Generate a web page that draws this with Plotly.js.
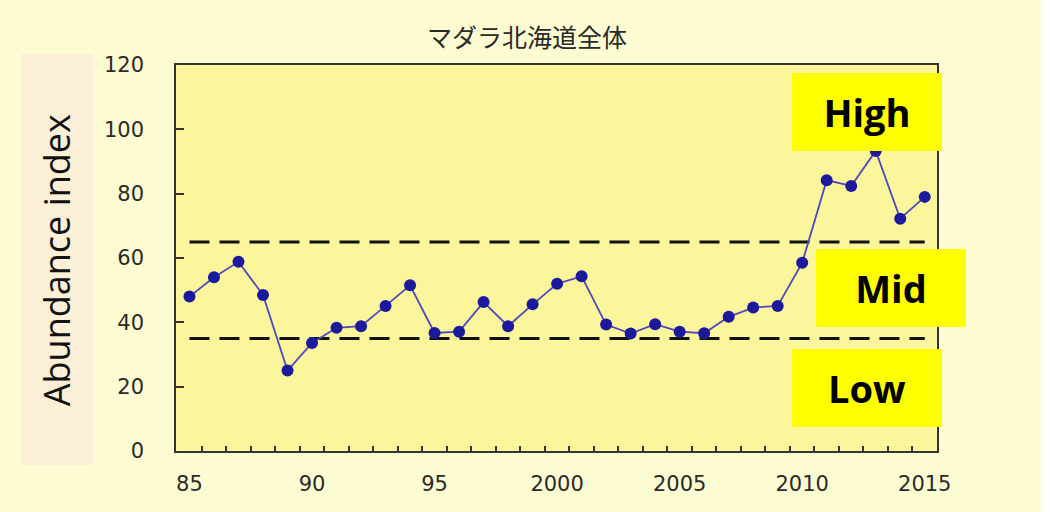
<!DOCTYPE html>
<html>
<head>
<meta charset="utf-8">
<script src="https://cdn.plot.ly/plotly-3.0.1.min.js"></script>
<style>
  body { margin: 0; background: #fdfbd2; }
  #chart { width: 1050px; height: 512px; }
</style>
</head>
<body>
<div id="chart"></div>
<script>
// abundance index, Pacific cod, all Hokkaido
var years = [1985, 1986, 1987, 1988, 1989, 1990, 1991, 1992, 1993, 1994,
             1995, 1996, 1997, 1998, 1999, 2000, 2001, 2002, 2003, 2004,
             2005, 2006, 2007, 2008, 2009, 2010, 2011, 2012, 2013, 2014, 2015];
var index = [48, 54, 58.8, 48.5, 25, 33.6, 38.3, 38.8, 45.1, 51.5,
             36.7, 37.1, 46.3, 38.8, 45.6, 52, 54.3, 39.3, 36.5, 39.4,
             37.1, 36.6, 41.7, 44.6, 45.1, 58.5, 84.2, 82.4, 93.3, 72.2, 79];
var thresholds = [35, 65];   // low/mid and mid/high boundaries
var levelNames = ['High', 'Mid', 'Low'];
var xTickVals = [1985, 1990, 1995, 2000, 2005, 2010, 2015];
var xTickText = ['85', '90', '95', '2000', '2005', '2010', '2015'];

var traces = [];
thresholds.forEach(function (t) {
    traces.push({
        x: [years[0], years[years.length - 1]],
        y: [t, t],
        mode: 'lines',
        type: 'scatter',
        hoverinfo: 'skip',
        line: {color: '#111111', width: 3, dash: '20px,10px'}
    });
});
traces.push({
    x: years,
    y: index,
    mode: 'lines+markers',
    type: 'scatter',
    name: 'index',
    line: {color: '#5048bc', width: 1.8},
    marker: {color: '#1c1a9c', size: 12}
});

// year ticks sit between the points
var halfYears = [];
for (var i = 0; i < years.length - 1; i++) halfYears.push(years[i] + 0.5);

var tickFont = {family: 'DejaVu Sans', size: 21, color: '#2a2a2a'};
var boxFont = {family: 'Open Sans', size: 38, color: '#000000', weight: 'bold'};

var boxes = [
    {x: 0.8095, y: 0.979},
    {x: 0.841, y: 0.523},
    {x: 0.8095, y: 0.264}
];
var annotations = levelNames.map(function (n, k) {
    return {
        text: '<b>' + n + '</b>',
        xref: 'paper', yref: 'paper',
        x: boxes[k].x, y: boxes[k].y,
        xanchor: 'left', yanchor: 'top',
        showarrow: false,
        width: 150, height: 78,
        align: 'center', valign: 'middle',
        bgcolor: '#ffff00', borderpad: 0, borderwidth: 0,
        font: boxFont
    };
});
annotations.push({
    text: 'Abundance index',
    xref: 'paper', yref: 'paper',
    x: -0.156, y: 0.495,
    xanchor: 'center', yanchor: 'middle',
    textangle: -90,
    showarrow: false,
    font: {family: 'Open Sans', size: 36, color: '#111111'}
});

var layout = {
    width: 1050,
    height: 512,
    margin: {l: 176, r: 113, t: 65, b: 61},
    paper_bgcolor: '#fdfbd2',
    plot_bgcolor: '#fbf59c',
    showlegend: false,
    title: {
        text: 'マダラ北海道全体',
        x: 0.502, xanchor: 'center',
        y: 0.926, yanchor: 'middle',
        font: {family: 'Noto Sans CJK JP', size: 25, color: '#2a2a2a'}
    },
    xaxis: {
        range: [1984.45, 2015.5],
        tickmode: 'array',
        tickvals: xTickVals,
        ticktext: xTickText,
        ticks: '',
        ticklabelstandoff: 13,
        tickfont: tickFont,
        showgrid: false,
        zeroline: false,
        showline: true,
        mirror: true,
        linecolor: '#333333',
        linewidth: 1.5,
        minor: {tickmode: 'array', tickvals: halfYears, ticks: 'inside',
                ticklen: 5, tickcolor: '#333333', tickwidth: 1.5, showgrid: false}
    },
    yaxis: {
        range: [0, 120],
        tickmode: 'array',
        tickvals: [0, 20, 40, 60, 80, 100, 120],
        ticks: 'inside',
        ticklen: 8,
        tickwidth: 1.5,
        tickcolor: '#333333',
        ticklabelstandoff: 26,
        tickfont: tickFont,
        showgrid: false,
        zeroline: false,
        showline: true,
        mirror: true,
        linecolor: '#333333',
        linewidth: 1.5
    },
    shapes: [
        {type: 'rect', xref: 'paper', yref: 'paper', layer: 'below',
         x0: -0.2037, x1: -0.1091, y0: -0.0363, y1: 1.0285,
         fillcolor: '#fcefd8', line: {width: 0}},
        {type: 'rect', xref: 'paper', yref: 'paper', layer: 'above',
         x0: 1.138, x1: 1.3, y0: -0.3, y1: 1.3,
         fillcolor: '#ffffff', line: {width: 0}}
    ],
    annotations: annotations
};

Plotly.newPlot('chart', traces, layout, {displayModeBar: false, responsive: false});
</script>
</body>
</html>
